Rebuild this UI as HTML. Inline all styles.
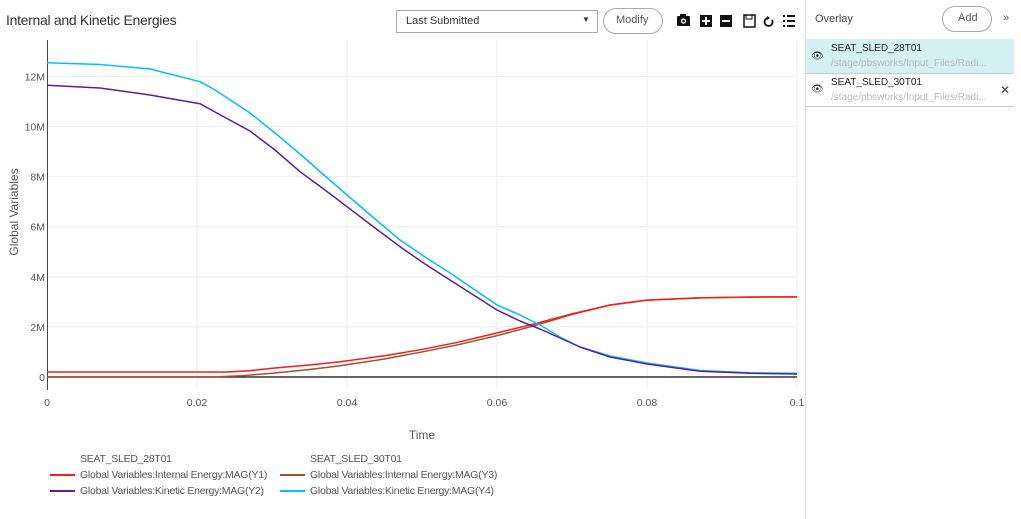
<!DOCTYPE html>
<html><head><style>
body{margin:0;width:1021px;height:519px;background:#fff;font-family:"Liberation Sans",sans-serif;overflow:hidden;position:relative;color:#333}
.t{position:absolute;white-space:nowrap}
.lg{font-size:10.5px;color:#555;letter-spacing:-0.25px}
</style></head><body>
<div class="t" style="left:6px;top:12px;font-size:14px;color:#333;letter-spacing:-0.3px">Internal and Kinetic Energies</div>
<div style="position:absolute;left:396px;top:10px;width:202px;height:23px;border:1px solid #aaa;box-sizing:border-box"></div>
<div class="t" style="left:406px;top:15px;font-size:11px">Last Submitted</div>
<div class="t" style="left:582px;top:15px;font-size:8px">▼</div>
<div style="position:absolute;left:603px;top:8px;width:60px;height:26px;border:1px solid #aaa;border-radius:13px;box-sizing:border-box"></div>
<div class="t" style="left:616px;top:14px;font-size:11px;color:#555">Modify</div>
<svg style="position:absolute;left:676px;top:13px" width="125" height="16">
<rect x="1" y="3" width="13" height="10" rx="1" fill="#111"/><rect x="4" y="1" width="6" height="3" fill="#111"/><circle cx="7.5" cy="8" r="2.6" fill="#fff"/><circle cx="7.5" cy="8" r="1.3" fill="#111"/>
<rect x="24" y="2" width="12" height="12" fill="#111"/><path d="M30 4v8M26 8h8" stroke="#fff" stroke-width="2"/>
<rect x="44" y="2" width="12" height="12" fill="#111"/><path d="M46 8h8" stroke="#fff" stroke-width="2"/>
<rect x="68" y="2" width="11" height="12" fill="none" stroke="#111" stroke-width="1.5"/><rect x="70" y="2" width="6" height="4" fill="none" stroke="#111"/>
<path d="M93 5a4 4 0 1 0 3 2" fill="none" stroke="#111" stroke-width="1.8"/><path d="M91 3l3 2-3 2z" fill="#111"/>
<path d="M107 3h2M107 8h2M107 13h2M111 3h8M111 8h8M111 13h8" stroke="#111" stroke-width="2"/>
</svg>
<div style="position:absolute;left:805px;top:0;width:1px;height:519px;background:#ddd"></div>
<div class="t" style="left:815px;top:13px;font-size:11px;color:#444">Overlay</div>
<div style="position:absolute;left:942px;top:6px;width:50px;height:26px;border:1px solid #aaa;border-radius:13px;box-sizing:border-box"></div>
<div class="t" style="left:958px;top:12px;font-size:11px;color:#555">Add</div>
<div class="t" style="left:1003px;top:12px;font-size:11px;color:#555">»</div>
<div style="position:absolute;left:806px;top:39px;width:208px;height:34px;background:#d3f0f2;border-bottom:1px solid #ccc"></div>
<div style="position:absolute;left:806px;top:73px;width:208px;height:33px;border-bottom:1px solid #ccc"></div>
<div class="t" style="left:831px;top:43px;font-size:10px;color:#222">SEAT_SLED_28T01</div>
<div class="t" style="left:831px;top:58px;font-size:10px;color:#bbb">/stage/pbsworks/Input_Files/Radi...</div>
<div class="t" style="left:831px;top:77px;font-size:10px;color:#222">SEAT_SLED_30T01</div>
<div class="t" style="left:831px;top:92px;font-size:10px;color:#bbb">/stage/pbsworks/Input_Files/Radi...</div>
<div class="t" style="left:811px;top:51px;font-size:10px">👁</div>
<div class="t" style="left:811px;top:84px;font-size:10px">👁</div>
<div class="t" style="left:1000px;top:83px;font-size:12px;color:#444">✕</div>
<svg id="c" style="position:absolute;left:0;top:0" width="805" height="519"></svg>
<div class="t lg" style="left:80px;top:453px">SEAT_SLED_28T01</div>
<div class="t lg" style="left:310px;top:453px">SEAT_SLED_30T01</div>
<div class="t lg" style="left:80px;top:469px">Global Variables:Internal Energy:MAG(Y1)</div>
<div class="t lg" style="left:80px;top:485px">Global Variables:Kinetic Energy:MAG(Y2)</div>
<div class="t lg" style="left:310px;top:469px">Global Variables:Internal Energy:MAG(Y3)</div>
<div class="t lg" style="left:310px;top:485px">Global Variables:Kinetic Energy:MAG(Y4)</div>
<script>
const s=document.getElementById('c');let h='';
const X=t=>47+t*7500,Y=m=>377-25.05*m;
for(let i=1;i<=12;i++){if(i%2==0)h+=`<line x1="47" x2="797" y1="${Y(i)}" y2="${Y(i)}" stroke="#eee"/>`;}
for(let i=1;i<=5;i++)h+=`<line y1="40" y2="390" x1="${X(i*0.02)}" x2="${X(i*0.02)}" stroke="#eee"/>`;
h+=`<line x1="47.5" x2="47.5" y1="40" y2="390" stroke="#444"/><line x1="47" x2="797" y1="377" y2="377" stroke="#333" stroke-width="1.5"/>`;
[0,2,4,6,8,10,12].forEach(v=>h+=`<text x="45" y="${Y(v)+4}" text-anchor="end" font-size="10.5" fill="#555">${v?v+'M':0}</text>`);
['0','0.02','0.04','0.06','0.08','0.1'].forEach((v,i)=>h+=`<text x="${X(i*0.02)}" y="406" text-anchor="middle" font-size="10.5" fill="#555">${v}</text>`);
h+=`<text x="422" y="439" text-anchor="middle" font-size="12" fill="#555">Time</text>`;
h+=`<text transform="translate(18,212) rotate(-90)" text-anchor="middle" font-size="12" fill="#555">Global Variables</text>`;
const PX={
'#00c0ff':[[47,62.7],[100,64.5],[150,69],[200,81.7],[215,90],[250,113],[275,133],[300,154],[325,176],[347,195],[375,219],[400,240],[425,257],[450,273],[475,290],[497,305],[520,315],[540,325],[560,337],[580,347],[610,356],[647,363],[700,370.5],[750,372.8],[797,373.3]],
'#5b1f9a':[[47,85.3],[100,88],[150,95],[200,103.7],[215,112],[250,131],[275,150],[300,171.7],[325,190],[347,206.7],[375,228],[400,246.7],[425,264],[450,280],[475,296],[497,310],[520,321],[540,329],[560,338],[580,347],[610,357],[647,364],[700,371.3],[750,373.3],[797,374]]};
const D={
'#a0522d':[[0,0],[.022,0],[.026,0.05],[.03,0.15],[.035,0.3],[.0391,0.45],[.045,0.72],[.05,1.0],[.055,1.3],[.06,1.65],[.065,2.05],[.07,2.5],[.075,2.87],[.08,3.07],[.087,3.16],[.093,3.19],[.1,3.2]],
'#ff1a1a':[[0,0.2],[.024,0.2],[.027,0.25],[.03,0.35],[.035,0.48],[.0391,0.61],[.045,0.85],[.05,1.1],[.055,1.4],[.06,1.76],[.065,2.12],[.07,2.52],[.075,2.87],[.08,3.07],[.087,3.16],[.093,3.19],[.1,3.2]]};
for(const c in D)h+=`<polyline fill="none" stroke="${c}" stroke-width="1.5" stroke-linejoin="round" points="${D[c].map(p=>X(p[0])+','+Y(p[1])).join(' ')}"/>`;
for(const c in PX)h+=`<polyline fill="none" stroke="${c}" stroke-width="1.5" stroke-linejoin="round" points="${PX[c].map(p=>p[0]+','+p[1]).join(' ')}"/>`;
[['#ff1a1a',475],['#5b1f9a',491]].forEach(a=>h+=`<line x1="50" x2="75" y1="${a[1]}" y2="${a[1]}" stroke="${a[0]}" stroke-width="2"/>`);
[['#a0522d',475],['#00c0ff',491]].forEach(a=>h+=`<line x1="280" x2="305" y1="${a[1]}" y2="${a[1]}" stroke="${a[0]}" stroke-width="2"/>`);
s.innerHTML=h;
</script>
</body></html>
